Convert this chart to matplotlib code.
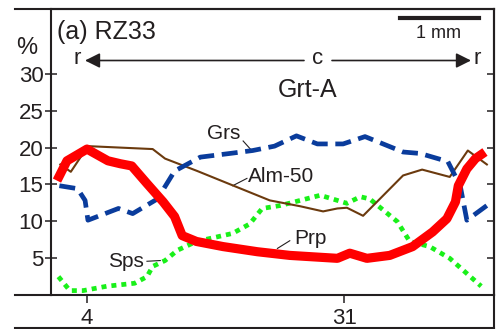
import matplotlib
matplotlib.use("Agg")
import matplotlib.pyplot as plt
from matplotlib.lines import Line2D

plt.rcParams['font.family'] = ['Liberation Sans', 'DejaVu Sans']
plt.rcParams['lines.scale_dashes'] = False

# profile values (x = analysis point, y = mol %)
prp_x = [0.85, 1.9, 4.0, 6.2, 7.5, 8.7, 10.3, 12.0, 13.2, 14.0, 15.5, 18.3, 21.9, 25.3,
         30.3, 31.6, 33.4, 35.8, 38.2, 40.3, 41.8, 42.7, 43.0, 43.9, 44.8, 45.8]
prp_y = [15.5, 18.2, 19.8, 18.2, 17.8, 17.5, 15.1, 12.6, 10.6, 8.0, 7.2, 6.5, 5.8, 5.3,
         4.9, 5.6, 4.9, 5.3, 6.5, 8.5, 10.3, 12.6, 14.8, 17.1, 18.5, 19.4]

alm_x = [1.2, 2.3, 4.1, 10.9, 12.2, 15.6, 23.2, 26.4, 28.8, 30.3, 31.3, 33.0, 37.2,
         39.2, 42.1, 44.0, 46.0]
alm_y = [17.7, 16.7, 20.2, 19.8, 18.5, 16.8, 12.8, 12.0, 11.3, 11.7, 11.8, 10.7, 16.2,
         17.0, 16.0, 19.6, 17.7]

grs_x = [1.1, 3.0, 3.8, 4.1, 7.3, 8.8, 11.4, 13.2, 15.9, 19.0, 21.4, 23.7, 26.0, 28.2,
         30.9, 33.2, 37.2, 39.0, 41.9, 43.2, 43.9, 46.0]
grs_y = [14.8, 14.4, 12.8, 10.1, 11.7, 11.0, 13.0, 16.8, 18.7, 19.2, 19.6, 20.2, 21.6,
         20.5, 20.5, 21.5, 19.4, 19.2, 18.1, 14.8, 10.1, 12.1]

sps_x = [1.0, 2.2, 3.6, 6.1, 9.0, 10.3, 10.9, 12.2, 13.5, 15.5, 19.3, 21.1, 22.4, 24.3,
         26.4, 28.5, 30.3, 31.3, 32.7, 33.7, 36.6, 37.9, 40.0, 42.1, 45.4]
sps_y = [2.4, 0.5, 0.5, 1.1, 1.5, 2.4, 3.8, 4.6, 6.0, 7.2, 8.3, 9.6, 11.7, 12.1, 12.8,
         13.5, 12.8, 12.4, 13.3, 13.0, 9.9, 7.2, 6.5, 4.9, 1.1]

yticks = [5, 10, 15, 20, 25, 30]
xticks = [4, 31]
xticklabels = ['4', '31']

W, H = 497, 329
ink = '#231f20'

fig = plt.figure(figsize=(W / 100, H / 100), dpi=100)


def px(x, y):
    # picture pixel (top-left origin) -> figure fraction
    return x / W, 1 - y / H


ax = fig.add_axes([51 / W, (H - 295) / H, (494 - 51) / W, (295 - 9) / H])
ax.set_xlim(0.22, 46.75)
ax.set_ylim(-0.1, 38.9)

ax.plot(sps_x, sps_y, color='#19f019', lw=3.4, dashes=(3.6, 3.6),
        dash_capstyle='butt', zorder=2)
ax.plot(alm_x, alm_y, color='#6b3a0e', lw=1.5, zorder=3)
ax.plot(grs_x, grs_y, color='#0a3c9c', lw=3.4, dashes=(11.5, 5.5),
        dash_capstyle='butt', zorder=3)
ax.plot(prp_x, prp_y, color='#ff0000', lw=6.6, solid_capstyle='butt',
        solid_joinstyle='round', zorder=4)

for s in ax.spines.values():
    s.set_linewidth(1.5)
    s.set_color(ink)

ax.set_yticks(yticks)
ax.set_xticks(xticks, xticklabels)
ax.tick_params(axis='y', direction='inout', length=9, width=1.1, colors=ink,
               labelsize=16, pad=1)
ax.tick_params(axis='x', direction='out', length=6, width=1.1, colors=ink,
               labelsize=16, pad=3)

sec = ax.secondary_yaxis('right')
sec.set_yticks(yticks)
sec.tick_params(direction='in', length=5, width=1.1, colors=ink, labelright=False)
sec.spines['right'].set_linewidth(1.5)
sec.spines['right'].set_color(ink)

# curve labels with leader lines
ax.text(18.4, 21.9, 'Grs', fontsize=15, color=ink, ha='center', va='center')
ax.plot([20.4, 21.3], [20.9, 19.6], color=ink, lw=0.8)
ax.text(24.4, 16.0, 'Alm-50', fontsize=15, color=ink, ha='center', va='center')
ax.plot([19.3, 20.8], [14.8, 15.8], color=ink, lw=0.8)
ax.text(27.5, 7.6, 'Prp', fontsize=15, color=ink, ha='center', va='center')
ax.plot([24.0, 25.3], [6.25, 7.3], color=ink, lw=0.8)
ax.text(8.1, 4.5, 'Sps', fontsize=15, color=ink, ha='center', va='center')
ax.plot([10.3, 11.7], [4.5, 4.6], color=ink, lw=0.8)

# frame lines running past the axes
for (x0, y0), (x1, y1) in [((15, 9), (494, 9)), ((15, 295), (51, 295)),
                           ((15, 328), (494, 328)), ((494, 295), (494, 328))]:
    a, b = px(x0, y0)
    c, d = px(x1, y1)
    fig.add_artist(Line2D([a, c], [b, d], color=ink, lw=1.5,
                          transform=fig.transFigure))

fig.text(*px(57, 32), '(a) RZ33', fontsize=18, color=ink, ha='left', va='center')
fig.text(*px(27, 48), '%', fontsize=17, color=ink, ha='center', va='center')
fig.text(*px(308, 90), 'Grt-A', fontsize=18, color=ink, ha='center', va='center')

# rim - core - rim arrow
ya = H - 60.5
for x_from, x_to in [(304, 85), (332, 471)]:
    ax.annotate('', xy=(x_to, ya), xytext=(x_from, ya), xycoords='figure pixels',
                textcoords='figure pixels',
                arrowprops=dict(arrowstyle='-|>,head_length=0.9,head_width=0.45',
                                color=ink, lw=1.2, shrinkA=0, shrinkB=0))
fig.text(*px(318, 59), 'c', fontsize=16, color=ink, ha='center', va='center')
fig.text(*px(77, 58), 'r', fontsize=16, color=ink, ha='center', va='center')
fig.text(*px(477, 58), 'r', fontsize=16, color=ink, ha='center', va='center')

# scale bar
a, b = px(400, 18)
c, d = px(479, 18)
fig.add_artist(Line2D([a, c], [b, d], color=ink, lw=3, transform=fig.transFigure))
fig.text(*px(439, 34), '1 mm', fontsize=13, color=ink, ha='center', va='center')

fig.savefig('out.png', dpi=100, facecolor='white')
